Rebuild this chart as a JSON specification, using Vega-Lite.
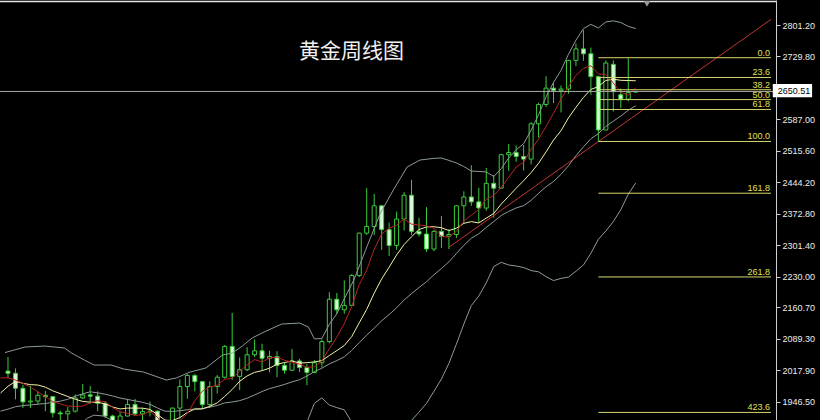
{
"$schema": "https://vega.github.io/schema/vega-lite/v6.json",
"width": 776, "height": 420,
"autosize": {"type": "none"},
"padding": {"left": 0, "top": 0, "right": 44, "bottom": 0},
"background": "#000000",
"config": {"view": {"stroke": null}, "axis": {"grid": false, "labelOverlap": false, "labelBound": false, "labelFlush": false}},
"resolve": {"axis": {"y": "independent", "x": "independent"}},
"datasets": {
"candles": [
{"i":0,"o":2016,"h":2048,"l":2000,"c":2011},{"i":1,"o":2011,"h":2022,"l":1952,"c":1977},{"i":2,"o":1977,"h":1985,"l":1932,"c":1946},{"i":3,"o":1946,"h":1983,"l":1932,"c":1948},{"i":4,"o":1948,"h":1970,"l":1940,"c":1961},{"i":5,"o":1961,"h":1971,"l":1925,"c":1958},{"i":6,"o":1958,"h":1959,"l":1911,"c":1921},{"i":7,"o":1921,"h":1926,"l":1893,"c":1919},{"i":8,"o":1919,"h":1935,"l":1902,"c":1925},{"i":9,"o":1925,"h":1963,"l":1922,"c":1955},
{"i":10,"o":1955,"h":1987,"l":1953,"c":1962},{"i":11,"o":1962,"h":1982,"l":1942,"c":1959},{"i":12,"o":1959,"h":1970,"l":1925,"c":1943},{"i":13,"o":1943,"h":1948,"l":1910,"c":1914},{"i":14,"o":1914,"h":1917,"l":1885,"c":1889},{"i":15,"o":1889,"h":1924,"l":1885,"c":1914},{"i":16,"o":1914,"h":1953,"l":1913,"c":1940},{"i":17,"o":1940,"h":1953,"l":1915,"c":1919},{"i":18,"o":1919,"h":1932,"l":1901,"c":1924},{"i":19,"o":1924,"h":1947,"l":1913,"c":1925},
{"i":20,"o":1925,"h":1927,"l":1846,"c":1848},{"i":21,"o":1848,"h":1858,"l":1810,"c":1832},{"i":22,"o":1832,"h":1933,"l":1832,"c":1932},{"i":23,"o":1932,"h":1997,"l":1908,"c":1981},{"i":24,"o":1981,"h":2009,"l":1953,"c":2006},{"i":25,"o":2006,"h":2010,"l":1970,"c":1992},{"i":26,"o":1992,"h":1993,"l":1931,"c":1940},{"i":27,"o":1940,"h":1993,"l":1932,"c":1981},{"i":28,"o":1981,"h":2007,"l":1965,"c":2002},{"i":29,"o":2002,"h":2075,"l":1999,"c":2072},
{"i":30,"o":2072,"h":2148,"l":1996,"c":2004},{"i":31,"o":2004,"h":2047,"l":1973,"c":2019},{"i":32,"o":2019,"h":2070,"l":2016,"c":2053},{"i":33,"o":2053,"h":2088,"l":2048,"c":2062},{"i":34,"o":2062,"h":2078,"l":2017,"c":2045},{"i":35,"o":2045,"h":2062,"l":2013,"c":2049},{"i":36,"o":2049,"h":2061,"l":2002,"c":2029},{"i":37,"o":2029,"h":2036,"l":2010,"c":2018},{"i":38,"o":2018,"h":2066,"l":2016,"c":2039},{"i":39,"o":2039,"h":2044,"l":2014,"c":2024},
{"i":40,"o":2024,"h":2032,"l":1984,"c":2013},{"i":41,"o":2013,"h":2041,"l":2011,"c":2035},{"i":42,"o":2035,"h":2088,"l":2024,"c":2083},{"i":43,"o":2083,"h":2195,"l":2079,"c":2179},{"i":44,"o":2179,"h":2193,"l":2146,"c":2155},{"i":45,"o":2155,"h":2222,"l":2146,"c":2165},{"i":46,"o":2165,"h":2236,"l":2164,"c":2233},{"i":47,"o":2233,"h":2330,"l":2229,"c":2329},{"i":48,"o":2329,"h":2431,"l":2325,"c":2344},{"i":49,"o":2344,"h":2418,"l":2324,"c":2391},
{"i":50,"o":2391,"h":2393,"l":2291,"c":2337},{"i":51,"o":2337,"h":2353,"l":2277,"c":2301},{"i":52,"o":2301,"h":2378,"l":2291,"c":2361},{"i":53,"o":2361,"h":2422,"l":2335,"c":2415},{"i":54,"o":2415,"h":2450,"l":2325,"c":2333},{"i":55,"o":2333,"h":2364,"l":2321,"c":2327},{"i":56,"o":2327,"h":2388,"l":2286,"c":2293},{"i":57,"o":2293,"h":2336,"l":2288,"c":2333},{"i":58,"o":2333,"h":2368,"l":2295,"c":2322},{"i":59,"o":2322,"h":2338,"l":2293,"c":2326},
{"i":60,"o":2326,"h":2392,"l":2318,"c":2391},{"i":61,"o":2391,"h":2424,"l":2352,"c":2411},{"i":62,"o":2411,"h":2483,"l":2391,"c":2400},{"i":63,"o":2400,"h":2432,"l":2353,"c":2386},{"i":64,"o":2386,"h":2477,"l":2380,"c":2442},{"i":65,"o":2442,"h":2461,"l":2364,"c":2431},{"i":66,"o":2431,"h":2509,"l":2431,"c":2507},{"i":67,"o":2507,"h":2531,"l":2470,"c":2512},{"i":68,"o":2512,"h":2528,"l":2491,"c":2503},{"i":69,"o":2503,"h":2529,"l":2471,"c":2497},
{"i":70,"o":2497,"h":2581,"l":2485,"c":2577},{"i":71,"o":2577,"h":2625,"l":2546,"c":2621},{"i":72,"o":2621,"h":2685,"l":2615,"c":2658},{"i":73,"o":2658,"h":2670,"l":2624,"c":2653},{"i":74,"o":2653,"h":2664,"l":2603,"c":2656},{"i":75,"o":2656,"h":2722,"l":2645,"c":2721},{"i":76,"o":2721,"h":2759,"l":2708,"c":2747},{"i":77,"o":2747,"h":2790,"l":2720,"c":2736},{"i":78,"o":2736,"h":2750,"l":2643,"c":2684},{"i":79,"o":2684,"h":2686,"l":2536,"c":2563},
{"i":80,"o":2563,"h":2721,"l":2563,"c":2715},{"i":81,"o":2712,"h":2721,"l":2605,"c":2650},{"i":82,"o":2643,"h":2657,"l":2613,"c":2633},{"i":83,"o":2633,"h":2726,"l":2628,"c":2648},{"i":84,"o":2649,"h":2652,"l":2647,"c":2650.5}
],
"ma": [
{"i":-1,"a":2000.2,"b":1966.1,"m":1925},{"i":0,"a":2001,"b":1981.6,"m":1929.6},{"i":1,"a":1995.6,"b":1992.5,"m":1935.2},{"i":2,"a":1988.2,"b":1988.2,"m":1937.7},{"i":3,"a":1979.8,"b":1985.2,"m":1939.1},{"i":4,"a":1968.6,"b":1984.4,"m":1940.8},{"i":5,"a":1958,"b":1979.5,"m":1942.3},{"i":6,"a":1946.8,"b":1971.2,"m":1945.1},{"i":7,"a":1941.4,"b":1964.8,"m":1947.8},{"i":8,"a":1936.8,"b":1958.3,"m":1951.9},{"i":9,"a":1935.6,"b":1952.1,"m":1959.1},
{"i":10,"a":1936.4,"b":1947.2,"m":1964.4},{"i":11,"a":1944,"b":1945.4,"m":1969},{"i":12,"a":1948.8,"b":1945.1,"m":1966.7},{"i":13,"a":1946.6,"b":1941.7,"m":1963.5},{"i":14,"a":1933.4,"b":1934.5,"m":1959.5},{"i":15,"a":1923.8,"b":1930.1,"m":1954.8},{"i":16,"a":1920,"b":1932,"m":1951.6},{"i":17,"a":1915.2,"b":1932,"m":1948.4},{"i":18,"a":1917.2,"b":1931.9,"m":1945.1},{"i":19,"a":1924.4,"b":1928.9,"m":1940.5},
{"i":20,"a":1911.2,"b":1917.5,"m":1932.4},{"i":21,"a":1889.6,"b":1904.8,"m":1925.1},{"i":22,"a":1892.2,"b":1903.7,"m":1924.4},{"i":23,"a":1903.6,"b":1910.4,"m":1926.1},{"i":24,"a":1919.8,"b":1922.1,"m":1928.3},{"i":25,"a":1948.6,"b":1929.9,"m":1930},{"i":26,"a":1970.2,"b":1929.9,"m":1931},{"i":27,"a":1980,"b":1936.1,"m":1934.1},{"i":28,"a":1984.2,"b":1943.9,"m":1937.9},{"i":29,"a":1997.4,"b":1958.6,"m":1943.8},
{"i":30,"a":1999.8,"b":1974.2,"m":1945.9},{"i":31,"a":2015.6,"b":1992.9,"m":1948.9},{"i":32,"a":2030,"b":2005,"m":1954.4},{"i":33,"a":2042,"b":2013.1,"m":1961.8},{"i":34,"a":2036.6,"b":2017,"m":1969.6},{"i":35,"a":2045.6,"b":2022.7,"m":1976.3},{"i":36,"a":2047.6,"b":2031.6,"m":1980.8},{"i":37,"a":2040.6,"b":2035.3,"m":1985.7},{"i":38,"a":2036,"b":2039,"m":1991.5},{"i":39,"a":2031.8,"b":2034.2,"m":1996.4},
{"i":40,"a":2024.6,"b":2035.1,"m":2004.7},{"i":41,"a":2025.8,"b":2036.7,"m":2014.8},{"i":42,"a":2038.8,"b":2039.7,"m":2022.4},{"i":43,"a":2066.8,"b":2051.4,"m":2032.3},{"i":44,"a":2093,"b":2062.4,"m":2039.7},{"i":45,"a":2123.4,"b":2074,"m":2048.4},{"i":46,"a":2163,"b":2094.4,"m":2063},{"i":47,"a":2212.2,"b":2125.5,"m":2080.4},{"i":48,"a":2245.2,"b":2156,"m":2097.5},{"i":49,"a":2292.4,"b":2192.7,"m":2113.5},
{"i":50,"a":2326.8,"b":2225.1,"m":2130.1},{"i":51,"a":2340.4,"b":2251.7,"m":2144.2},{"i":52,"a":2346.8,"b":2279.5,"m":2159.6},{"i":53,"a":2361,"b":2303.1,"m":2177.3},{"i":54,"a":2349.4,"b":2320.9,"m":2191.7},{"i":55,"a":2347.4,"b":2337.1,"m":2205.6},{"i":56,"a":2345.8,"b":2343.1,"m":2218.8},{"i":57,"a":2340.2,"b":2343.5,"m":2234.5},{"i":58,"a":2321.6,"b":2341.3,"m":2248.7},{"i":59,"a":2320.2,"b":2334.8,"m":2263.8},
{"i":60,"a":2333,"b":2340.2,"m":2282.7},{"i":61,"a":2356.6,"b":2351.2,"m":2301.5},{"i":62,"a":2370,"b":2355.1,"m":2317.3},{"i":63,"a":2382.8,"b":2352.2,"m":2327.7},{"i":64,"a":2406,"b":2363.1,"m":2342},{"i":65,"a":2414,"b":2373.5,"m":2355.3},{"i":66,"a":2433.2,"b":2394.9,"m":2369},{"i":67,"a":2455.6,"b":2412.8,"m":2378.2},{"i":68,"a":2479,"b":2430.9,"m":2386.1},{"i":69,"a":2490,"b":2448,"m":2391.4},
{"i":70,"a":2519.2,"b":2466.6,"m":2403.4},{"i":71,"a":2542,"b":2487.6,"m":2419.4},{"i":72,"a":2571.2,"b":2513.4,"m":2434.3},{"i":73,"a":2601.2,"b":2540.1,"m":2446.2},{"i":74,"a":2633,"b":2561.5,"m":2462.3},{"i":75,"a":2661.8,"b":2590.5,"m":2482},{"i":76,"a":2687,"b":2614.5,"m":2504.7},{"i":77,"a":2702.6,"b":2636.9,"m":2524.9},{"i":78,"a":2708.8,"b":2655,"m":2543},{"i":79,"a":2690.2,"b":2661.6,"m":2554.8},
{"i":80,"a":2689,"b":2675.4,"m":2571},{"i":81,"a":2669.6,"b":2678.3,"m":2583},{"i":82,"a":2649,"b":2675.8,"m":2594.6},{"i":83,"a":2641.8,"b":2675.3,"m":2607.7},{"i":84,"a":2659.2,"b":2674.7,"m":2618.1}
],
"bu": [
{"i":-0.4,"p":2058},{"i":2.29,"p":2070.6},{"i":4.93,"p":2072.8},{"i":7.57,"p":2068.3},{"i":8.49,"p":2057},{"i":10.21,"p":2041.1},{"i":11.53,"p":2029.7},{"i":13.78,"p":2029.7},{"i":15.5,"p":2020.6},{"i":18.14,"p":2013.8},{"i":21.18,"p":1995.7},{"i":22.5,"p":2000.2},{"i":24.35,"p":2013.8},{"i":26.46,"p":2022.9},{"i":28.71,"p":2052.4},{"i":30.03,"p":2057},{"i":31.35,"p":2072.8},{"i":32.67,"p":2091},{"i":34.25,"p":2104.6},{"i":36.63,"p":2122.7},{"i":39.01,"p":2125},{"i":40.2,"p":2115.9},{"i":41,"p":2089},{"i":42,"p":2090},{"i":43,"p":2122},{"i":44,"p":2146},{"i":45,"p":2180},{"i":46.28,"p":2222.6},{"i":48.12,"p":2302},{"i":49.84,"p":2374.6},{"i":51.56,"p":2426.8},{"i":53.41,"p":2479},{"i":55.13,"p":2494.9},
{"i":57,"p":2498.7},{"i":58,"p":2499.4},{"i":59,"p":2494.1},{"i":60,"p":2488.3},{"i":61,"p":2480.1},{"i":62,"p":2469.9},{"i":63,"p":2469},{"i":64,"p":2467.8},{"i":65,"p":2457.5},{"i":66,"p":2475.2},{"i":67,"p":2499.5},{"i":68,"p":2517.9},{"i":69,"p":2531.8},{"i":70,"p":2562.8},{"i":71,"p":2597.6},{"i":72,"p":2638.2},{"i":73,"p":2670.9},{"i":74,"p":2698.3},{"i":75,"p":2734.8},{"i":76,"p":2766.9},{"i":77,"p":2793.1},{"i":78,"p":2802.6},{"i":79,"p":2794.6},{"i":80,"p":2808.2},{"i":81,"p":2810.6},{"i":82,"p":2807},{"i":83,"p":2798.1},{"i":84,"p":2793.3}
],
"bl": [
{"s":"a","i":9.6,"p":1893},{"s":"a","i":10.6,"p":1909},{"s":"a","i":11.5,"p":1916},{"s":"a","i":12.8,"p":1914},{"s":"a","i":14.4,"p":1900},
{"s":"b","i":40,"p":1900},{"s":"b","i":41,"p":1942.8},{"s":"b","i":42,"p":1955.1},{"s":"b","i":43,"p":1939},{"s":"b","i":44,"p":1933.1},{"s":"b","i":45,"p":1928},{"s":"b","i":46,"p":1900},
{"s":"c","i":53,"p":1895},{"s":"c","i":54,"p":1904},{"s":"c","i":55,"p":1923},{"s":"c","i":56,"p":1942.7},{"s":"c","i":57,"p":1970.3},{"s":"c","i":58,"p":1997.9},{"s":"c","i":59,"p":2033.4},{"s":"c","i":60,"p":2077},{"s":"c","i":61,"p":2122.8},{"s":"c","i":62,"p":2164.7},{"s":"c","i":63,"p":2186.3},{"s":"c","i":64,"p":2216.2},{"s":"c","i":65,"p":2253.1},{"s":"c","i":66,"p":2262.8},{"s":"c","i":67,"p":2256.8},{"s":"c","i":68,"p":2254.3},{"s":"c","i":69,"p":2251},{"s":"c","i":70,"p":2244},{"s":"c","i":71,"p":2241.2},{"s":"c","i":72,"p":2230.3},{"s":"c","i":73,"p":2221.4},{"s":"c","i":74,"p":2226.3},{"s":"c","i":75,"p":2229.2},{"s":"c","i":76,"p":2242.5},{"s":"c","i":77,"p":2256.7},{"s":"c","i":78,"p":2283.3},{"s":"c","i":79,"p":2315},{"s":"c","i":80,"p":2333.8},{"s":"c","i":81,"p":2355.3},{"s":"c","i":82,"p":2382.2},{"s":"c","i":83,"p":2417.3},{"s":"c","i":84,"p":2442.9}
],
"trend": [{"i":59,"p":2297},{"i":102.1,"p":2814}],
"fib": [
{"t":"0.0","p":2727},{"t":"23.6","p":2682.2},{"t":"38.2","p":2654.4},{"t":"50.0","p":2632},{"t":"61.8","p":2609.6},{"t":"100.0","p":2537},{"t":"161.8","p":2419.6},{"t":"261.8","p":2229.6},{"t":"423.6","p":1922.2}
]
},
"layer": [
{"data": {"name": "candles"},
 "mark": {"type": "rule", "color": "#3ccc3c", "strokeWidth": 1},
 "encoding": {
  "x": {"field": "i", "type": "quantitative", "scale": {"domain": [-0.4, 102.1], "nice": false, "zero": false}, "axis": null},
  "y": {"field": "l", "type": "quantitative", "scale": {"domain": [1905, 2858], "nice": false, "zero": false},
        "axis": {"orient": "right", "title": null, "values": [1946.5, 2017.9, 2089.3, 2160.7, 2230.0, 2301.4, 2372.8, 2444.2, 2515.6, 2587.0, 2729.8, 2801.2],
                 "format": ".2f", "labelColor": "#ececec", "labelFont": "Liberation Sans", "labelFontSize": 9, "labelPadding": 2,
                 "tickSize": 4, "tickColor": "#d0d0d0", "domainColor": "#d0d0d0", "labelBound": false, "labelOverlap": false, "labelFlush": false, "grid": false}},
  "y2": {"field": "h"}
 }},
{"data": {"name": "candles"},
 "mark": {"type": "bar", "width": 4, "stroke": "#3ccc3c", "strokeWidth": 1},
 "encoding": {
  "x": {"field": "i", "type": "quantitative", "axis": null},
  "y": {"field": "o", "type": "quantitative", "axis": null},
  "y2": {"field": "c"},
  "fill": {"condition": {"test": "datum.c < datum.o", "value": "#d6fad6"}, "value": "#000000"}
 }},
{"data": {"name": "ma"},
 "mark": {"type": "line", "color": "#8c9b99", "strokeWidth": 1},
 "encoding": {"x": {"field": "i", "type": "quantitative", "axis": null}, "y": {"field": "m", "type": "quantitative", "axis": null}}},
{"data": {"name": "bu"},
 "mark": {"type": "line", "color": "#8c9b99", "strokeWidth": 1},
 "encoding": {"x": {"field": "i", "type": "quantitative", "axis": null}, "y": {"field": "p", "type": "quantitative", "axis": null}}},
{"data": {"name": "bl"},
 "mark": {"type": "line", "color": "#8c9b99", "strokeWidth": 1},
 "encoding": {"x": {"field": "i", "type": "quantitative", "axis": null}, "y": {"field": "p", "type": "quantitative", "axis": null}, "detail": {"field": "s"}}},
{"data": {"name": "ma"},
 "mark": {"type": "line", "color": "#f2f2a8", "strokeWidth": 1},
 "encoding": {"x": {"field": "i", "type": "quantitative", "axis": null}, "y": {"field": "b", "type": "quantitative", "axis": null}}},
{"data": {"name": "ma"},
 "mark": {"type": "line", "color": "#b82424", "strokeWidth": 1},
 "encoding": {"x": {"field": "i", "type": "quantitative", "axis": null}, "y": {"field": "a", "type": "quantitative", "axis": null}}},
{"data": {"name": "trend"},
 "mark": {"type": "line", "color": "#c23434", "strokeWidth": 1},
 "encoding": {"x": {"field": "i", "type": "quantitative", "axis": null}, "y": {"field": "p", "type": "quantitative", "axis": null}}},
{"data": {"values": [{"p": 2650.51}]},
 "mark": {"type": "rule", "color": "#a8a8a8", "strokeWidth": 1},
 "encoding": {"y": {"field": "p", "type": "quantitative", "axis": null}}},
{"data": {"values": [{"p": 2854.6}]},
 "mark": {"type": "rule", "color": "#e6e6e6", "strokeWidth": 1.5},
 "encoding": {"y": {"field": "p", "type": "quantitative", "axis": null}}},
{"data": {"name": "fib"},
 "mark": {"type": "rule", "color": "#d6d66c", "strokeWidth": 1},
 "encoding": {"x": {"datum": 79, "type": "quantitative", "axis": null}, "x2": {"datum": 102.1}, "y": {"field": "p", "type": "quantitative", "axis": null}}},
{"data": {"name": "fib"},
 "mark": {"type": "text", "color": "#e0e050", "font": "Liberation Sans", "fontSize": 9, "align": "right", "baseline": "alphabetic", "dx": -1, "dy": -2},
 "encoding": {"x": {"datum": 102.1, "type": "quantitative", "axis": null}, "y": {"field": "p", "type": "quantitative", "axis": null}, "text": {"field": "t"}}},
{"data": {"values": [{"i": 45.97, "p": 2740.7, "t": "黄金周线图"}]},
 "mark": {"type": "text", "color": "#f0f0f0", "font": "Noto Sans CJK SC", "fontSize": 21, "align": "center", "baseline": "middle"},
 "encoding": {"x": {"field": "i", "type": "quantitative", "axis": null}, "y": {"field": "p", "type": "quantitative", "axis": null}, "text": {"field": "t"}}},
{"data": {"values": [{"i": 85.5, "p": 2849}]},
 "mark": {"type": "point", "shape": "triangle-down", "filled": true, "color": "#9a9a9a", "size": 45, "opacity": 1},
 "encoding": {"x": {"field": "i", "type": "quantitative", "axis": null}, "y": {"field": "p", "type": "quantitative", "axis": null}}},
{"data": {"values": [{"i": 102.34, "i2": 107.6, "p": 2667.4, "p2": 2637.2}]},
 "mark": {"type": "rect", "color": "#ffffff"},
 "encoding": {"x": {"field": "i", "type": "quantitative", "axis": null}, "x2": {"field": "i2"}, "y": {"field": "p", "type": "quantitative", "axis": null}, "y2": {"field": "p2"}}},
{"data": {"values": [{"i": 103.0, "p": 2650.51, "t": "2650.51"}]},
 "mark": {"type": "text", "color": "#000000", "font": "Liberation Sans", "fontSize": 9, "align": "left", "baseline": "middle"},
 "encoding": {"x": {"field": "i", "type": "quantitative", "axis": null}, "y": {"field": "p", "type": "quantitative", "axis": null}, "text": {"field": "t"}}}
]
}
